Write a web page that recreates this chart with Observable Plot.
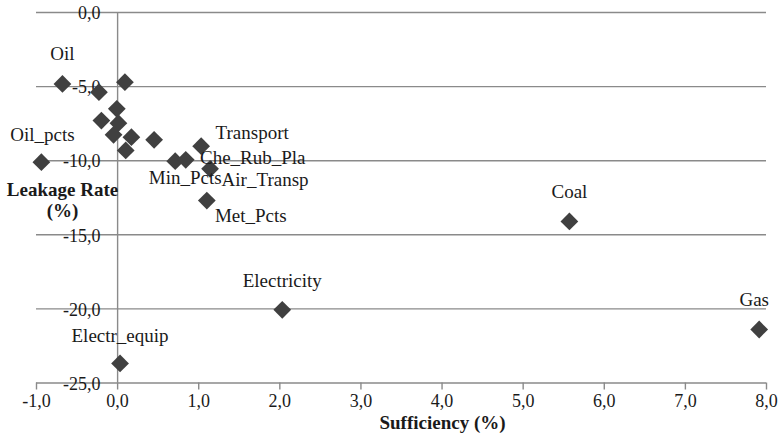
<!DOCTYPE html>
<html>
<head>
<meta charset="utf-8">
<script src="https://cdn.jsdelivr.net/npm/d3@7"></script>
<script src="https://cdn.jsdelivr.net/npm/@observablehq/plot@0.6"></script>
<style>
  body { margin: 0; padding: 0; background: #fff; font-family: "Liberation Serif", "Times New Roman", serif; }
</style>
</head>
<body>
<div id="chart"></div>
<script>
// ---- data ----
const names = ["Oil", "Oil_pcts", "", "", "", "", "", "", "", "", "", "Min_Pcts", "Che_Rub_Pla", "Transport", "Air_Transp", "Met_Pcts", "Electr_equip", "Electricity", "Coal", "Gas"];
const sufficiency = [-0.68, -0.94, 0.09, -0.23, -0.01, -0.20, 0.01, -0.05, 0.17, 0.10, 0.45, 0.71, 0.84, 1.03, 1.14, 1.10, 0.03, 2.03, 5.57, 7.91];
const leakage = [-4.82, -10.1, -4.70, -5.38, -6.50, -7.29, -7.47, -8.25, -8.41, -9.31, -8.59, -10.03, -9.94, -9.02, -10.55, -12.69, -23.68, -20.06, -14.10, -21.39];
const xTicks = [-1, 0, 1, 2, 3, 4, 5, 6, 7, 8];
const yTicks = [0, -5, -10, -15, -20, -25];
const xTitle = "Sufficiency (%)";
const yTitle = "Leakage Rate\n(%)";

const data = names.map((n, i) => ({name: n, x: sufficiency[i], y: leakage[i]}));

// label placement offsets (pixels), as moved in the original chart
const labelOffset = {
  "Oil": [0, -30], "Oil_pcts": [1, -27], "Electr_equip": [0, -28], "Electricity": [0, -29],
  "Coal": [0, -30], "Gas": [-5, -30], "Transport": [51, -13], "Che_Rub_Pla": [67, -2],
  "Min_Pcts": [10, 17], "Air_Transp": [55, 11], "Met_Pcts": [44, 15]
};

const FONT = "Liberation Serif, Times New Roman, serif";
const fmt = v => v.toFixed(1).replace(".", ",");
const grid = "#8a8a8a";
const ink = "#1a1a1a";

const labelMarks = data.filter(d => d.name).map(d => Plot.text([d], {
  x: "x", y: "y", text: "name",
  dx: labelOffset[d.name][0], dy: labelOffset[d.name][1],
  fontSize: 19, fontFamily: FONT, fill: ink, lineAnchor: "middle"
}));

const chart = Plot.plot({
  width: 779,
  height: 436,
  marginLeft: 36,
  marginRight: 13,
  marginTop: 12,
  marginBottom: 53.5,
  style: "font-family: 'Liberation Serif', 'Times New Roman', serif; background: #fff;",
  x: {domain: [-1, 8], axis: null},
  y: {domain: [-25, 0], axis: null},
  marks: [
    Plot.ruleY(yTicks, {stroke: grid, strokeWidth: 1.4}),
    Plot.ruleX([0], {stroke: grid, strokeWidth: 1.4}),
    Plot.axisX({ticks: xTicks, tickFormat: fmt, tickSize: 7, tickPadding: 4, stroke: grid, strokeWidth: 1.4, fill: ink, fontSize: 18, fontFamily: FONT, fontVariant: "normal", label: null}),
    Plot.text(yTicks, {x: 0, y: d => d, text: fmt, textAnchor: "end", dx: -17, dy: 1, fontSize: 18, fontFamily: FONT, fill: ink}),
    Plot.dot(data, {x: "x", y: "y", symbol: "diamond2", r: 8, fill: "#404040", stroke: "none"}),
    ...labelMarks,
    Plot.text([xTitle], {frameAnchor: "bottom", lineAnchor: "middle", dx: 41, dy: 40, text: d => d, fontSize: 19, fontFamily: FONT, fontWeight: "bold", fill: ink}),
    Plot.text([yTitle], {frameAnchor: "top-left", lineAnchor: "middle", textAnchor: "middle", dx: 26, dy: 187, text: d => d, fontSize: 19, fontFamily: FONT, fontWeight: "bold", fill: ink, lineHeight: 1.15})
  ]
});
chart.setAttribute("font-family", "Liberation Serif");
chart.querySelectorAll("text").forEach(t => { t.style.fontFamily = "'Liberation Serif', 'Times New Roman', serif"; });
document.getElementById("chart").appendChild(chart);
</script>
</body>
</html>
